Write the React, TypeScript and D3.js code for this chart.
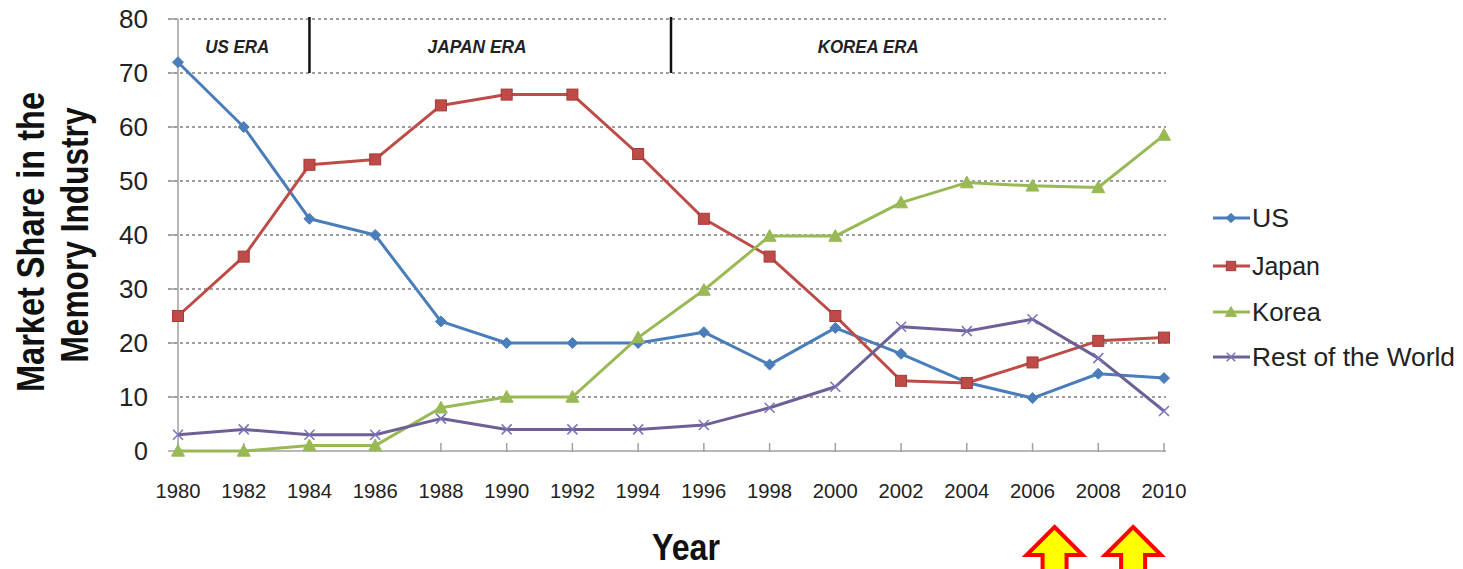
import React from "react";
import * as d3 from "d3";

const years = [1980, 1982, 1984, 1986, 1988, 1990, 1992, 1994, 1996, 1998, 2000, 2002, 2004, 2006, 2008, 2010];
const usShare = [72, 60, 43, 40, 24, 20, 20, 20, 22, 16, 22.8, 18, 12.7, 9.8, 14.3, 13.5];
const japanShare = [25, 36, 53, 54, 64, 66, 66, 55, 43, 36, 25, 13, 12.6, 16.4, 20.4, 21];
const koreaShare = [0, 0, 1, 1, 8, 10, 10, 21, 29.8, 39.8, 39.8, 46, 49.7, 49.1, 48.8, 58.5];
const restShare = [3, 4, 3, 3, 6, 4, 4, 4, 4.8, 8, 11.9, 23, 22.2, 24.4, 17.2, 7.4];
const yTicks = [0, 10, 20, 30, 40, 50, 60, 70, 80];
const eraLabels = ["US ERA", "JAPAN ERA", "KOREA ERA"];
const eraCenters = [1981.8, 1989.1, 2001.0];
const eraWidths = [64, 99, 101];
const eraDividers = [1984, 1995];
const arrowYears = [2006.67, 2009.06];

type SeriesDef = { name: string; values: number[]; color: string; marker: "diamond" | "square" | "triangle" | "x" };
const series: SeriesDef[] = [
  { name: "US", values: usShare, color: "#4A7EBB", marker: "diamond" },
  { name: "Japan", values: japanShare, color: "#BE4B48", marker: "square" },
  { name: "Korea", values: koreaShare, color: "#98B954", marker: "triangle" },
  { name: "Rest of the World", values: restShare, color: "#6E5F96", marker: "x" },
];

const W = 1463;
const H = 569;
const x = d3.scaleLinear().domain([1980, 2010]).range([178, 1164]);
const y = d3.scaleLinear().domain([0, 80]).range([451, 19]);
const line = d3.line<number>().x((_, i) => x(years[i])).y((v) => y(v));

function Marker({ kind, cx, cy, color, scale = 1 }: { kind: string; cx: number; cy: number; color: string; scale?: number }) {
  if (kind === "diamond") {
    const r = 5.5 * scale;
    return <path d={`M${cx},${cy - r}L${cx + r},${cy}L${cx},${cy + r}L${cx - r},${cy}Z`} fill={color} stroke={color} strokeWidth={1} />;
  }
  if (kind === "square") {
    const s = 11 * scale;
    return <rect x={cx - s / 2} y={cy - s / 2} width={s} height={s} fill={color} stroke="#A33A38" strokeWidth={1} />;
  }
  if (kind === "triangle") {
    const r = 6.5 * scale;
    return <path d={`M${cx},${cy - r}L${cx + r},${cy + r * 0.8}L${cx - r},${cy + r * 0.8}Z`} fill={color} stroke={color} strokeWidth={1} />;
  }
  const r = 5 * scale;
  return (
    <path d={`M${cx - r},${cy - r}L${cx + r},${cy + r}M${cx - r},${cy + r}L${cx + r},${cy - r}`} stroke="#7A73B8" strokeWidth={1.5} fill="none" />
  );
}

export default function App() {
  const baseY = y(0);
  return (
    <svg width={W} height={H} style={{ position: "absolute", left: 0, top: 0, background: "#fff" }} fontFamily="'Liberation Sans', Arial, sans-serif">
      {/* gridlines */}
      {yTicks.filter((t) => t > 0).map((t) => (
        <line key={t} x1={168} x2={1166} y1={y(t)} y2={y(t)} stroke="#9E9E9E" strokeWidth={1.8} strokeDasharray="3,3" />
      ))}
      {/* axes */}
      <line x1={178} x2={178} y1={y(80)} y2={baseY} stroke="#A0A0A0" strokeWidth={1.5} />
      <line x1={178} x2={1166} y1={baseY} y2={baseY} stroke="#A0A0A0" strokeWidth={1.5} />
      {years.map((yr) => (
        <line key={yr} x1={x(yr)} x2={x(yr)} y1={baseY - 8} y2={baseY + 1} stroke="#A0A0A0" strokeWidth={1.5} />
      ))}
      {yTicks.map((t) => (
        <line key={t} x1={168} x2={178} y1={y(t)} y2={y(t)} stroke="#A0A0A0" strokeWidth={1.5} />
      ))}
      {/* y tick labels */}
      {yTicks.map((t) => (
        <text
          key={t}
          x={148}
          y={y(t)}
          dy="0.36em"
          textAnchor="end"
          fontSize={25}
          fill="#222"
          {...(t >= 10 ? { textLength: 29, lengthAdjust: "spacingAndGlyphs" } : {})}
        >
          {t}
        </text>
      ))}
      {/* x tick labels */}
      {years.map((yr) => (
        <text key={yr} x={x(yr)} y={498} textAnchor="middle" fontSize={20} fill="#222" textLength={45} lengthAdjust="spacingAndGlyphs">
          {yr}
        </text>
      ))}
      {/* era dividers and labels */}
      {eraDividers.map((d) => (
        <line key={d} x1={x(d)} x2={x(d)} y1={y(80) - 2} y2={y(70)} stroke="#111" strokeWidth={2.5} />
      ))}
      {eraLabels.map((lab, i) => (
        <text key={lab} x={x(eraCenters[i])} y={53} textAnchor="middle" fontSize={18} fontWeight="bold" fontStyle="italic" fill="#222" textLength={eraWidths[i]} lengthAdjust="spacingAndGlyphs">
          {lab}
        </text>
      ))}
      {/* series lines */}
      {series.map((s) => (
        <path key={s.name} d={line(s.values) ?? ""} fill="none" stroke={s.color} strokeWidth={3} strokeLinejoin="round" />
      ))}
      {series.map((s) =>
        s.values.map((v, i) => <Marker key={s.name + i} kind={s.marker} cx={x(years[i])} cy={y(v)} color={s.color} />)
      )}
      {/* legend */}
      {series.map((s, i) => {
        const ly = [218, 266, 312, 357][i];
        return (
          <g key={s.name}>
            <line x1={1213} x2={1250} y1={ly} y2={ly} stroke={s.color} strokeWidth={3} />
            <Marker kind={s.marker} cx={1231} cy={ly} color={s.color} scale={0.85} />
            <text x={1252} y={ly} dy="0.36em" fontSize={26} fill="#222" textLength={[37, 68, 69, 203][i]} lengthAdjust="spacingAndGlyphs">
              {s.name}
            </text>
          </g>
        );
      })}
      {/* axis titles */}
      <g transform="translate(44,242) rotate(-90)">
        <text x={0} y={0} textAnchor="middle" fontSize={38} fontWeight="bold" fill="#111" textLength={300} lengthAdjust="spacingAndGlyphs">
          Market Share in the
        </text>
      </g>
      <g transform="translate(88,235) rotate(-90)">
        <text x={0} y={0} textAnchor="middle" fontSize={38} fontWeight="bold" fill="#111" textLength={255} lengthAdjust="spacingAndGlyphs">
          Memory Industry
        </text>
      </g>
      <text x={686} y={560} textAnchor="middle" fontSize={37} fontWeight="bold" fill="#111" textLength={68} lengthAdjust="spacingAndGlyphs">
        Year
      </text>
      {/* arrows */}
      {arrowYears.map((ay) => {
        const cx = x(ay);
        return (
          <path
            key={ay}
            d={`M${cx},527 L${cx + 28},555 L${cx + 12},555 L${cx + 12},575 L${cx - 12},575 L${cx - 12},555 L${cx - 28},555 Z`}
            fill="#FFFF00"
            stroke="#FF0000"
            strokeWidth={4}
            strokeLinejoin="miter"
          />
        );
      })}
    </svg>
  );
}
